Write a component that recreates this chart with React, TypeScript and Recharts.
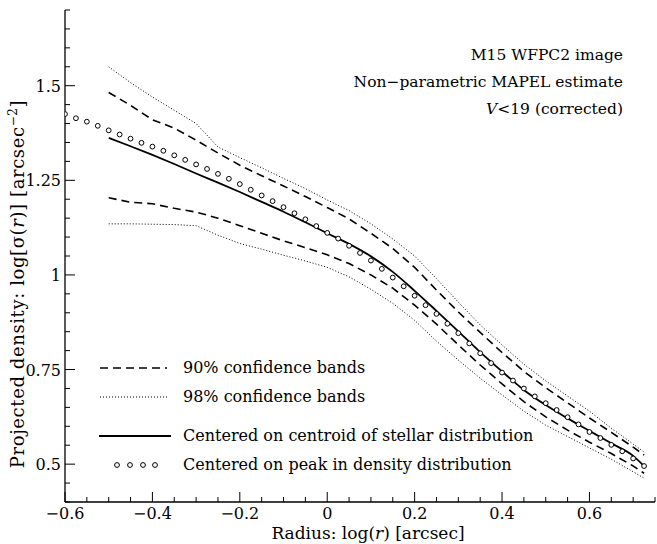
import React from 'react';
import { LineChart, Line, XAxis, YAxis, Legend } from 'recharts';

// ---- data ----
const bandRadius = [-0.5, -0.45, -0.4, -0.35, -0.3, -0.25, -0.2, -0.15, -0.1, -0.05, 0, 0.05, 0.1, 0.15, 0.2, 0.25, 0.3, 0.35, 0.4, 0.45, 0.5, 0.55, 0.6, 0.65, 0.7, 0.725];
const upper98 = [1.550, 1.508, 1.470, 1.435, 1.400, 1.338, 1.310, 1.283, 1.255, 1.228, 1.198, 1.170, 1.135, 1.095, 1.050, 0.990, 0.928, 0.868, 0.815, 0.764, 0.720, 0.680, 0.640, 0.595, 0.553, 0.532];
const upper90 = [1.482, 1.448, 1.410, 1.388, 1.356, 1.322, 1.290, 1.262, 1.235, 1.207, 1.178, 1.148, 1.110, 1.070, 1.020, 0.960, 0.902, 0.848, 0.795, 0.745, 0.702, 0.662, 0.622, 0.584, 0.545, 0.524];
const centroid = [1.362, 1.340, 1.317, 1.293, 1.268, 1.244, 1.219, 1.193, 1.167, 1.139, 1.110, 1.082, 1.049, 1.008, 0.958, 0.905, 0.851, 0.796, 0.745, 0.696, 0.656, 0.621, 0.588, 0.555, 0.522, 0.495];
const lower90 = [1.204, 1.192, 1.188, 1.176, 1.166, 1.150, 1.130, 1.110, 1.090, 1.072, 1.053, 1.030, 1.000, 0.965, 0.920, 0.870, 0.815, 0.762, 0.712, 0.665, 0.625, 0.590, 0.558, 0.528, 0.495, 0.476];
const lower98 = [1.135, 1.135, 1.134, 1.133, 1.130, 1.105, 1.083, 1.068, 1.052, 1.037, 1.020, 0.995, 0.962, 0.925, 0.880, 0.825, 0.775, 0.727, 0.683, 0.640, 0.603, 0.573, 0.543, 0.513, 0.480, 0.463];

const peakRadius = [-0.6, -0.575, -0.55, -0.525, -0.5, -0.475, -0.45, -0.425, -0.4, -0.375, -0.35, -0.325, -0.3, -0.275, -0.25, -0.225, -0.2, -0.175, -0.15, -0.125, -0.1, -0.075, -0.05, -0.025, 0, 0.025, 0.05, 0.075, 0.1, 0.125, 0.15, 0.175, 0.2, 0.225, 0.25, 0.275, 0.3, 0.325, 0.35, 0.375, 0.4, 0.425, 0.45, 0.475, 0.5, 0.525, 0.55, 0.575, 0.6, 0.625, 0.65, 0.675, 0.7, 0.725];
const peakDensity = [1.425, 1.414, 1.405, 1.394, 1.382, 1.371, 1.360, 1.349, 1.339, 1.328, 1.316, 1.304, 1.292, 1.280, 1.267, 1.254, 1.240, 1.225, 1.210, 1.195, 1.179, 1.163, 1.147, 1.129, 1.111, 1.096, 1.077, 1.058, 1.038, 1.016, 0.993, 0.970, 0.945, 0.920, 0.897, 0.871, 0.846, 0.819, 0.793, 0.767, 0.742, 0.721, 0.700, 0.679, 0.661, 0.643, 0.624, 0.605, 0.585, 0.569, 0.551, 0.534, 0.515, 0.495];

const xTicks = [-0.6, -0.55, -0.5, -0.45, -0.4, -0.35, -0.3, -0.25, -0.2, -0.15, -0.1, -0.05, 0, 0.05, 0.1, 0.15, 0.2, 0.25, 0.3, 0.35, 0.4, 0.45, 0.5, 0.55, 0.6, 0.65, 0.7, 0.75];
const xMajor = [-0.6, -0.4, -0.2, 0, 0.2, 0.4, 0.6];
const xMajorLabels = ['\u22120.6', '\u22120.4', '\u22120.2', '0', '0.2', '0.4', '0.6'];
const yTicks = [0.4, 0.45, 0.5, 0.55, 0.6, 0.65, 0.7, 0.75, 0.8, 0.85, 0.9, 0.95, 1, 1.05, 1.1, 1.15, 1.2, 1.25, 1.3, 1.35, 1.4, 1.45, 1.5, 1.55, 1.6, 1.65, 1.7];
const yMajor = [0.5, 0.75, 1, 1.25, 1.5];
const yMajorLabels = ['0.5', '0.75', '1', '1.25', '1.5'];

const legendLabels = [
  '90% confidence bands',
  '98% confidence bands',
  'Centered on centroid of stellar distribution',
  'Centered on peak in density distribution',
];
const annotationLines = ['M15 WFPC2 image', 'Non\u2212parametric MAPEL estimate'];

// ---- styling ----
const W = 657;
const H = 544;
const SERIF = '"DejaVu Serif", "Liberation Serif", serif';
const DASH = '8 5';
const DOT = '1 2';

const majorIndex = (list: number[], v: number) => list.findIndex((m) => Math.abs(m - v) < 1e-6);

const BottomTick = (props: any) => {
  const { x, y, payload } = props;
  const idx = majorIndex(xMajor, payload.value);
  const len = idx >= 0 ? 10 : 5;
  return (
    <g>
      <line x1={x} x2={x} y1={y} y2={y - len} stroke="#000" strokeWidth={1} />
      {idx >= 0 && (
        <text x={x} y={y + 17} textAnchor="middle" fontFamily={SERIF} fontSize={16} fill="#000">
          {xMajorLabels[idx]}
        </text>
      )}
    </g>
  );
};

const TopTick = (props: any) => {
  const { x, y, payload } = props;
  const idx = majorIndex(xMajor, payload.value);
  const len = idx >= 0 ? 10 : 5;
  return <line x1={x} x2={x} y1={y} y2={y + len} stroke="#000" strokeWidth={1} />;
};

const LeftTick = (props: any) => {
  const { x, y, payload } = props;
  const idx = majorIndex(yMajor, payload.value);
  const len = idx >= 0 ? 10 : 5;
  return (
    <g>
      <line x1={x} x2={x + len} y1={y} y2={y} stroke="#000" strokeWidth={1} />
      {idx >= 0 && (
        <text x={x - 4} y={y + 6} textAnchor="end" fontFamily={SERIF} fontSize={16} fill="#000">
          {yMajorLabels[idx]}
        </text>
      )}
    </g>
  );
};

const RightTick = (props: any) => {
  const { x, y, payload } = props;
  const idx = majorIndex(yMajor, payload.value);
  const len = idx >= 0 ? 10 : 5;
  return <line x1={x} x2={x - len} y1={y} y2={y} stroke="#000" strokeWidth={1} />;
};

const renderLegend = () => {
  const rowY = [13, 42, 81, 110];
  return (
    <svg width={480} height={125} style={{ display: 'block' }}>
      <line x1={5} x2={72} y1={rowY[0]} y2={rowY[0]} stroke="#000" strokeWidth={1.6} strokeDasharray={DASH} />
      <line x1={5} x2={72} y1={rowY[1]} y2={rowY[1]} stroke="#000" strokeWidth={1} strokeDasharray={DOT} />
      <line x1={4} x2={76} y1={rowY[2]} y2={rowY[2]} stroke="#000" strokeWidth={1.8} />
      {[22, 35, 48, 60].map((cx) => (
        <circle key={cx} cx={cx} cy={rowY[3]} r={2.4} fill="#fff" stroke="#000" strokeWidth={1} />
      ))}
      {legendLabels.map((t, i) => (
        <text key={t} x={88} y={rowY[i] + 5} fontFamily={SERIF} fontSize={16} fill="#000">
          {t}
        </text>
      ))}
    </svg>
  );
};

export default function App() {
  const bandRows = bandRadius.map((r, i) => ({
    r,
    u98: upper98[i],
    u90: upper90[i],
    c: centroid[i],
    l90: lower90[i],
    l98: lower98[i],
  }));
  const peakRows = peakRadius.map((r, i) => ({ r, p: peakDensity[i] }));

  return (
    <div style={{ position: 'absolute', left: 0, top: 0, width: W, height: H, background: '#fff' }}>
      <LineChart width={W} height={H} margin={{ top: 10, right: 2, bottom: 12, left: 10 }}>
        <XAxis
          xAxisId="b"
          type="number"
          dataKey="r"
          domain={[-0.6, 0.75]}
          ticks={xTicks}
          interval={0}
          tickSize={0}
          tickMargin={0}
          tickLine={false}
          axisLine={{ stroke: '#000', strokeWidth: 1.3 }}
          tick={BottomTick}
          height={30}
          allowDataOverflow
        />
        <XAxis
          xAxisId="t"
          orientation="top"
          type="number"
          dataKey="r"
          domain={[-0.6, 0.75]}
          ticks={xTicks}
          interval={0}
          tickSize={0}
          tickMargin={0}
          tickLine={false}
          axisLine={{ stroke: '#000', strokeWidth: 1.3 }}
          tick={TopTick}
          height={0}
          allowDataOverflow
        />
        <YAxis
          yAxisId="l"
          type="number"
          domain={[0.4, 1.7]}
          ticks={yTicks}
          interval={0}
          tickSize={0}
          tickMargin={0}
          tickLine={false}
          axisLine={{ stroke: '#000', strokeWidth: 1.3 }}
          tick={LeftTick}
          width={55}
          allowDataOverflow
        />
        <YAxis
          yAxisId="r"
          orientation="right"
          type="number"
          domain={[0.4, 1.7]}
          ticks={yTicks}
          interval={0}
          tickSize={0}
          tickMargin={0}
          tickLine={false}
          axisLine={{ stroke: '#000', strokeWidth: 1.3 }}
          tick={RightTick}
          width={0}
          allowDataOverflow
        />
        <Line data={bandRows} xAxisId="b" yAxisId="l" dataKey="u98" type="linear" stroke="#000" strokeWidth={1} strokeDasharray={DOT} dot={false} isAnimationActive={false} />
        <Line data={bandRows} xAxisId="b" yAxisId="l" dataKey="l98" type="linear" stroke="#000" strokeWidth={1} strokeDasharray={DOT} dot={false} isAnimationActive={false} />
        <Line data={bandRows} xAxisId="b" yAxisId="l" dataKey="u90" type="linear" stroke="#000" strokeWidth={1.6} strokeDasharray={DASH} dot={false} isAnimationActive={false} />
        <Line data={bandRows} xAxisId="b" yAxisId="l" dataKey="l90" type="linear" stroke="#000" strokeWidth={1.6} strokeDasharray={DASH} dot={false} isAnimationActive={false} />
        <Line data={bandRows} xAxisId="b" yAxisId="l" dataKey="c" type="monotone" stroke="#000" strokeWidth={1.8} dot={false} isAnimationActive={false} />
        <Line
          data={peakRows}
          xAxisId="b"
          yAxisId="l"
          dataKey="p"
          type="linear"
          stroke="none"
          dot={{ r: 2.4, fill: '#fff', stroke: '#000', strokeWidth: 1 }}
          isAnimationActive={false}
        />
        <Legend
          layout="vertical"
          align="center"
          verticalAlign="middle"
          content={renderLegend}
          wrapperStyle={{ left: 95, top: 355, width: 480 }}
        />
      </LineChart>

      {/* annotation, top right */}
      <div style={{ position: 'absolute', right: 34, top: 42, textAlign: 'right', fontFamily: SERIF, fontSize: 15.5, lineHeight: '27px', color: '#000' }}>
        <div>{annotationLines[0]}</div>
        <div>{annotationLines[1]}</div>
        <div>
          <i>V</i>&lt;19 (corrected)
        </div>
      </div>

      {/* axis titles */}
      <div style={{ position: 'absolute', left: 0, width: 736, top: 524, textAlign: 'center', fontFamily: SERIF, fontSize: 17, lineHeight: '18px', color: '#000' }}>
        Radius: log(<i>r</i>) [arcsec]
      </div>
      <div
        style={{
          position: 'absolute',
          left: 17,
          top: 284,
          transform: 'translate(-50%, -50%) rotate(-90deg)',
          whiteSpace: 'nowrap',
          fontFamily: SERIF,
          fontSize: 18,
          letterSpacing: 0.6,
          color: '#000',
        }}
      >
        Projected density: log[σ(<i>r</i>)] [arcsec<sup style={{ fontSize: 12 }}>−2</sup>]
      </div>
    </div>
  );
}
